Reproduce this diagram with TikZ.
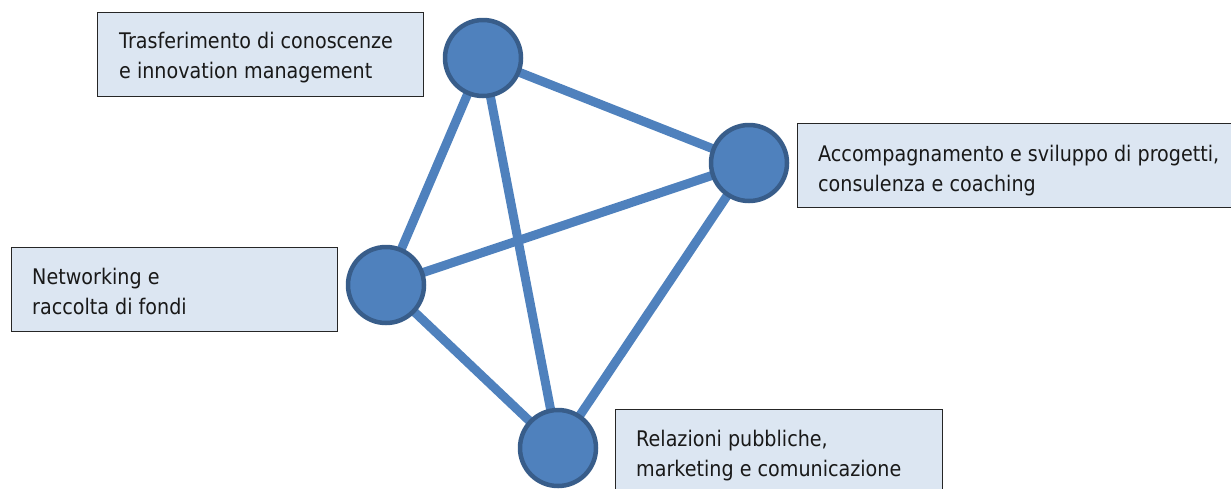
\documentclass[tikz,border=0pt]{standalone}
\usepackage{fontspec}
\setmainfont[FakeStretch=0.89]{DejaVu Sans}
\definecolor{hubfill}{HTML}{4F81BD}
\definecolor{hubline}{HTML}{385D8A}
\definecolor{boxfill}{HTML}{DCE6F2}
\begin{document}
\begin{tikzpicture}[x=1pt,y=-1pt,
  hub/.style={circle,draw=hubline,fill=hubfill,line width=4.5pt,minimum size=76pt,inner sep=0pt},
  link/.style={draw=hubfill,line width=9pt},
  infobox/.style={draw=black!85,fill=boxfill,line width=0.9pt},
  caption/.style={anchor=base west,inner sep=0pt,font=\fontsize{21.5}{30}\selectfont,text=black!90}]
\useasboundingbox (0,0) rectangle (1231,488);
\clip (0,0) rectangle (1231,488);
% hub positions
\coordinate (t) at (483,58);
\coordinate (r) at (749,163);
\coordinate (l) at (386,285);
\coordinate (b) at (558,448);
% links between every pair of hubs
\path[link] (t) -- (r);
\path[link] (t) -- (l);
\path[link] (t) -- (b);
\path[link] (r) -- (l);
\path[link] (r) -- (b);
\path[link] (l) -- (b);
% hubs above the links
\node[hub] (ht) at (t) {};
\node[hub] (hr) at (r) {};
\node[hub] (hl) at (l) {};
\node[hub] (hb) at (b) {};
% label boxes
\path[infobox] (97,12) rectangle (423,96);
\path[infobox] (797,123) rectangle (1240,207);
\path[infobox] (11,247) rectangle (337,331);
\path[infobox] (615,409) rectangle (942,500);
% label texts
\node[caption] (t1) at (119,48.3) {Trasferimento di conoscenze};
\node[caption] (t2) at (119,78.3) {e innovation management};
\node[caption] (r1) at (818,161) {Accompagnamento e sviluppo di progetti,};
\node[caption] (r2) at (818,191) {consulenza e coaching};
\node[caption] (l1) at (32,284.7) {Networking e};
\node[caption] (l2) at (32,314.7) {raccolta di fondi};
\node[caption] (b1) at (636,446) {Relazioni pubbliche,};
\node[caption] (b2) at (636,476) {marketing e comunicazione};
\end{tikzpicture}
\end{document}
